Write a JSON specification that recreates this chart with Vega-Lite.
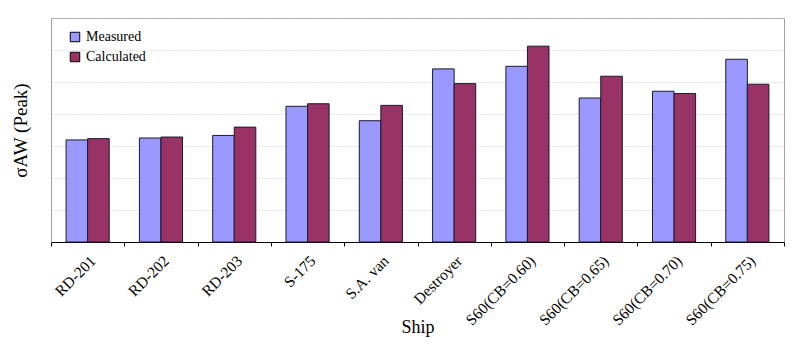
{
  "$schema": "https://vega.github.io/schema/vega-lite/v6.json",
  "width": 733,
  "height": 224,
  "autosize": {"type": "none"},
  "padding": {"left": 51, "top": 18, "right": 16, "bottom": 110},
  "background": "white",
  "config": {
    "font": "Liberation Serif",
    "view": {"stroke": "#a0a0a0", "strokeWidth": 1},
    "axis": {"titleFont": "Liberation Serif", "labelFont": "Liberation Serif"},
    "legend": {"labelFont": "Liberation Serif"}
  },
  "data": {
    "values": [
      {"ship": "RD-201", "series": "Measured", "value": 3.19},
      {"ship": "RD-201", "series": "Calculated", "value": 3.23},
      {"ship": "RD-202", "series": "Measured", "value": 3.25},
      {"ship": "RD-202", "series": "Calculated", "value": 3.28},
      {"ship": "RD-203", "series": "Measured", "value": 3.33},
      {"ship": "RD-203", "series": "Calculated", "value": 3.59},
      {"ship": "S-175", "series": "Measured", "value": 4.24},
      {"ship": "S-175", "series": "Calculated", "value": 4.32},
      {"ship": "S.A. van", "series": "Measured", "value": 3.79},
      {"ship": "S.A. van", "series": "Calculated", "value": 4.27},
      {"ship": "Destroyer", "series": "Measured", "value": 5.41},
      {"ship": "Destroyer", "series": "Calculated", "value": 4.95},
      {"ship": "S60(CB=0.60)", "series": "Measured", "value": 5.49},
      {"ship": "S60(CB=0.60)", "series": "Calculated", "value": 6.12},
      {"ship": "S60(CB=0.65)", "series": "Measured", "value": 4.5},
      {"ship": "S60(CB=0.65)", "series": "Calculated", "value": 5.18},
      {"ship": "S60(CB=0.70)", "series": "Measured", "value": 4.71},
      {"ship": "S60(CB=0.70)", "series": "Calculated", "value": 4.64},
      {"ship": "S60(CB=0.75)", "series": "Measured", "value": 5.71},
      {"ship": "S60(CB=0.75)", "series": "Calculated", "value": 4.93}
    ]
  },
  "mark": {"type": "bar", "stroke": "#1a1a2e", "strokeWidth": 1},
  "encoding": {
    "x": {
      "field": "ship",
      "type": "nominal",
      "sort": null,
      "scale": {"paddingInner": 0, "paddingOuter": 0},
      "axis": {
        "title": "Ship",
        "titleFontSize": 18,
        "titleFontWeight": "normal",
        "titleColor": "black",
        "titleBaseline": "alphabetic",
        "titleY": 90,
        "labelAngle": -45,
        "labelFontSize": 15.5,
        "labelColor": "black",
        "labelPadding": 7,
        "tickBand": "extent",
        "tickSize": 4,
        "tickColor": "black",
        "domainColor": "black",
        "grid": false
      }
    },
    "xOffset": {
      "field": "series",
      "type": "nominal",
      "sort": ["Measured", "Calculated"],
      "scale": {"domain": ["Measured", "Calculated"], "paddingInner": 0, "paddingOuter": 0.7}
    },
    "y": {
      "field": "value",
      "type": "quantitative",
      "scale": {"domain": [0, 7], "nice": false},
      "axis": {
        "title": "σAW (Peak)",
        "titleFontSize": 19,
        "titleFontWeight": "normal",
        "titleColor": "black",
        "titleX": -31,
        "titleY": 112,
        "titleAlign": "center",
        "titleBaseline": "middle",
        "values": [0, 1, 2, 3, 4, 5, 6, 7],
        "labels": false,
        "ticks": false,
        "domainColor": "#a0a0a0",
        "grid": true,
        "gridColor": "#c8c8c8",
        "gridDash": [1, 2]
      }
    },
    "color": {
      "field": "series",
      "type": "nominal",
      "scale": {"domain": ["Measured", "Calculated"], "range": ["#9999ff", "#993366"]},
      "legend": {
        "title": null,
        "orient": "none",
        "legendX": 17,
        "legendY": 12,
        "symbolType": "square",
        "symbolSize": 90,
        "symbolStrokeColor": "black",
        "symbolStrokeWidth": 1,
        "labelFontSize": 14,
        "labelColor": "black",
        "rowPadding": 6,
        "labelOffset": 4
      }
    }
  }
}
